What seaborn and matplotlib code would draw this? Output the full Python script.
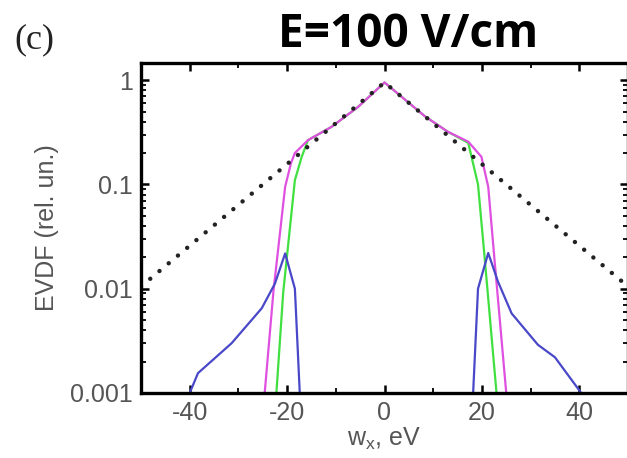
import matplotlib
matplotlib.use("Agg")
import matplotlib.pyplot as plt
import matplotlib.ticker as mticker
import seaborn as sns
import numpy as np

# --- data ---
dot_x = [-50, 0, 50]
dot_y = [0.0105, 0.95, 0.0105]

mag_x = [-24.6, -22.8, -20.4, -19.2, -18.4, -15.7, -10.9, -5.4, 0, 8.3, 13.0, 17.2, 19.9, 21.3, 22.6, 25.0]
mag_y = [0.001, 0.0095, 0.095, 0.16, 0.20, 0.266, 0.356, 0.555, 0.95, 0.45, 0.32, 0.257, 0.184, 0.095, 0.0187, 0.001]

grn_x = [-22.2, -20.8, -18.4, -17.0, -15.7, -10.9, -5.4, 0, 8.3, 13.0, 17.2, 19.2, 20.6, 23.0]
grn_y = [0.001, 0.0092, 0.11, 0.184, 0.266, 0.356, 0.555, 0.95, 0.45, 0.32, 0.25, 0.10, 0.019, 0.001]

blu_left_x = [-40.0, -38.3, -31.4, -25.2, -22.5, -20.4, -18.4, -17.4]
blu_left_y = [0.001, 0.00155, 0.003, 0.0065, 0.0112, 0.0218, 0.010, 0.001]
blu_right_x = [18.2, 19.2, 21.3, 23.3, 26.1, 31.5, 35.0, 40.4]
blu_right_y = [0.001, 0.010, 0.022, 0.0117, 0.0058, 0.0029, 0.0022, 0.001]

x_ticks = [-40, -20, 0, 20, 40]
y_ticks = [0.001, 0.01, 0.1, 1]
y_tick_labels = ["0.001", "0.01", "0.1", "1"]

sns.set_theme(style="white")
plt.rcParams['font.family'] = ['Liberation Sans', 'DejaVu Sans']

fig = plt.figure(figsize=(6.27, 4.58), dpi=100)
ax = fig.add_axes([141/627, 1 - 393/458, (628-141)/627, (393-63)/458])

gray = "#555555"
sns.lineplot(x=grn_x, y=grn_y, ax=ax, color="#40e040", lw=1.6, sort=False, estimator=None)
sns.lineplot(x=mag_x, y=mag_y, ax=ax, color="#e050e0", lw=1.6, sort=False, estimator=None)
sns.lineplot(x=blu_left_x, y=blu_left_y, ax=ax, color="#4848c8", lw=1.6, sort=False, estimator=None)
sns.lineplot(x=blu_right_x, y=blu_right_y, ax=ax, color="#4848c8", lw=1.6, sort=False, estimator=None)
ax.plot(dot_x, dot_y, color="#222222", lw=3.2, linestyle=(0, (0.01, 2.7)),
        dash_capstyle="round", solid_capstyle="round")

ax.set_yscale("log")
ax.set_xlim(-50, 50)
ax.set_ylim(0.001, 1.46)
ax.set_xticks(x_ticks)
ax.set_xticklabels([str(v) for v in x_ticks])
ax.xaxis.set_minor_locator(mticker.MultipleLocator(10))
ax.set_yticks(y_ticks)
ax.set_yticklabels(y_tick_labels)
ax.yaxis.set_minor_locator(mticker.LogLocator(base=10, subs=np.arange(2, 10)))
ax.yaxis.set_minor_formatter(mticker.NullFormatter())

ax.tick_params(which="both", direction="in", top=True, right=True, bottom=True, left=True,
               color="black", labelcolor=gray, labelsize=18)
ax.tick_params(which="major", length=6, width=1.8, pad=6)
ax.tick_params(which="minor", length=3.5, width=1.3)
for s in ax.spines.values():
    s.set_color("black")
    s.set_linewidth(2.4)

ax.set_xlabel(r"w$_\mathregular{x}$, eV", color=gray, fontsize=18, labelpad=0)
ax.set_ylabel("EVDF (rel. un.)", color=gray, fontsize=18, labelpad=8)

fig.text(408/627, 1 - 47/458, "E=100 V/cm", ha="center", va="baseline",
         fontsize=33, fontweight="bold", family=["Open Sans", "DejaVu Sans"], color="black")
fig.text(34/627, 1 - 40/458, "(c)", ha="center", va="center",
         fontsize=26, family=["Liberation Serif", "DejaVu Serif"], color="#222222")

fig.savefig("out.png", dpi=100)
